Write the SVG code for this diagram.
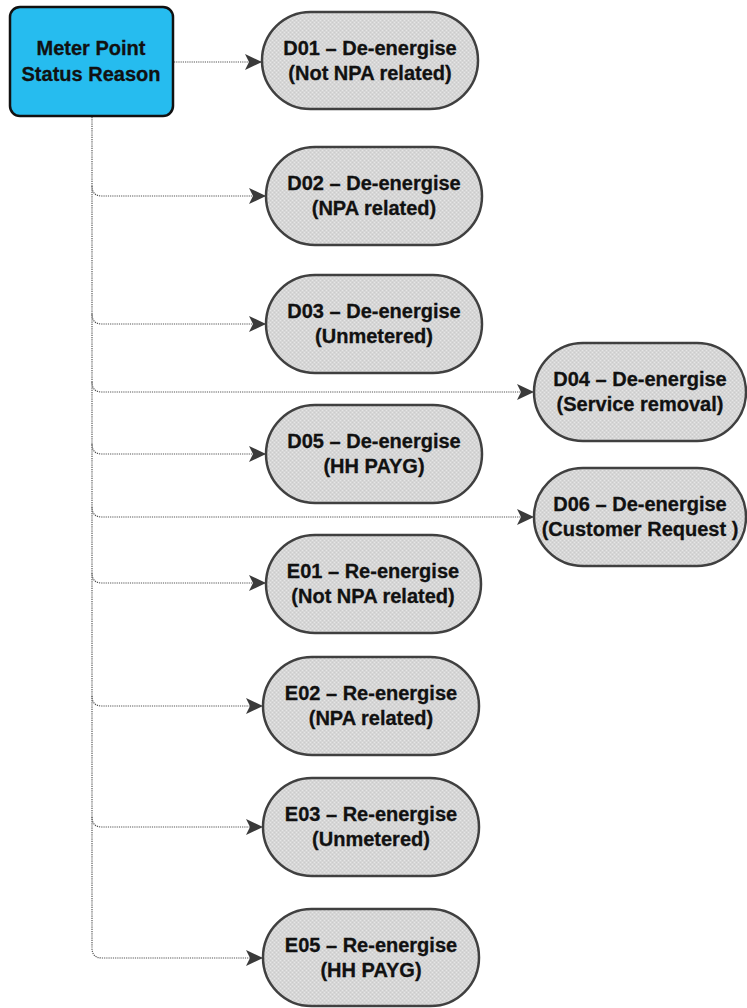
<svg xmlns="http://www.w3.org/2000/svg" width="747" height="1008" viewBox="0 0 747 1008">
<defs>
<pattern id="tex" width="4" height="4" patternUnits="userSpaceOnUse">
<rect width="4" height="4" fill="#d6d6d6"/>
<rect x="0" y="0" width="1" height="1" fill="#e6e6e6"/>
<rect x="2" y="2" width="1" height="1" fill="#e6e6e6"/>
<rect x="2" y="0" width="1" height="1" fill="#cbcbcb"/>
<rect x="0" y="2" width="1" height="1" fill="#cbcbcb"/>
</pattern>
<marker id="arr" markerWidth="18" markerHeight="18" refX="17" refY="9" orient="auto" markerUnits="userSpaceOnUse">
<path d="M0,1 L17,9 L0,17 L4,9 Z" fill="#3a3a3a"/>
</marker>
<style>
.n{fill:url(#tex);stroke:#404040;stroke-width:2.5}
.t{font-family:"Liberation Sans",Arial,sans-serif;font-weight:bold;font-size:20px;fill:#111;stroke:#111;stroke-width:0.3;text-anchor:middle}
.c{fill:none;stroke:#555;stroke-width:1.2;stroke-dasharray:1.2 1}
</style>
</defs>
<g id="connectors">
<path class="c" d="M174,62 H262" marker-end="url(#arr)"/>
<path class="c" d="M92,117 V948 Q92,958 102,958 H263" marker-end="url(#arr)"/>
<path class="c" d="M92,186 Q92,196 102,196 H266" marker-end="url(#arr)"/>
<path class="c" d="M92,314 Q92,324 102,324 H266" marker-end="url(#arr)"/>
<path class="c" d="M92,382 Q92,392 102,392 H534" marker-end="url(#arr)"/>
<path class="c" d="M92,444 Q92,454 102,454 H266" marker-end="url(#arr)"/>
<path class="c" d="M92,507 Q92,517 102,517 H534" marker-end="url(#arr)"/>
<path class="c" d="M92,573 Q92,583 102,583 H266" marker-end="url(#arr)"/>
<path class="c" d="M92,696 Q92,706 102,706 H263" marker-end="url(#arr)"/>
<path class="c" d="M92,817 Q92,827 102,827 H263" marker-end="url(#arr)"/>
</g>
<g id="root">
<rect x="10" y="7" width="163" height="109" rx="10" fill="#26BCEF" stroke="#111" stroke-width="2.5"/>
<text class="t" x="91" y="55">Meter Point</text>
<text class="t" x="91" y="81">Status Reason</text>
</g>
<g id="D01">
<rect class="n" x="262" y="12" width="216" height="97" rx="48.5"/>
<text class="t" x="370" y="55">D01 – De-energise</text>
<text class="t" x="370" y="80">(Not NPA related)</text>
</g>
<g id="D02">
<rect class="n" x="266" y="147" width="216" height="98" rx="49"/>
<text class="t" x="374" y="190">D02 – De-energise</text>
<text class="t" x="374" y="215">(NPA related)</text>
</g>
<g id="D03">
<rect class="n" x="266" y="275" width="216" height="98" rx="49"/>
<text class="t" x="374" y="318">D03 – De-energise</text>
<text class="t" x="374" y="343">(Unmetered)</text>
</g>
<g id="D04">
<rect class="n" x="534" y="343" width="212" height="98" rx="49"/>
<text class="t" x="640" y="386">D04 – De-energise</text>
<text class="t" x="640" y="411">(Service removal)</text>
</g>
<g id="D05">
<rect class="n" x="266" y="405" width="216" height="98" rx="49"/>
<text class="t" x="374" y="448">D05 – De-energise</text>
<text class="t" x="374" y="473">(HH PAYG)</text>
</g>
<g id="D06">
<rect class="n" x="534" y="468" width="212" height="98" rx="49"/>
<text class="t" x="640" y="511">D06 – De-energise</text>
<text class="t" x="640" y="536">(Customer Request )</text>
</g>
<g id="E01">
<rect class="n" x="266" y="535" width="215" height="98" rx="49"/>
<text class="t" x="373" y="578">E01 – Re-energise</text>
<text class="t" x="373" y="603">(Not NPA related)</text>
</g>
<g id="E02">
<rect class="n" x="263" y="657" width="216" height="98" rx="49"/>
<text class="t" x="371" y="700">E02 – Re-energise</text>
<text class="t" x="371" y="725">(NPA related)</text>
</g>
<g id="E03">
<rect class="n" x="263" y="778" width="216" height="98" rx="49"/>
<text class="t" x="371" y="821">E03 – Re-energise</text>
<text class="t" x="371" y="846">(Unmetered)</text>
</g>
<g id="E05">
<rect class="n" x="263" y="909" width="216" height="97" rx="48.5"/>
<text class="t" x="371" y="952">E05 – Re-energise</text>
<text class="t" x="371" y="977">(HH PAYG)</text>
</g>
</svg>
